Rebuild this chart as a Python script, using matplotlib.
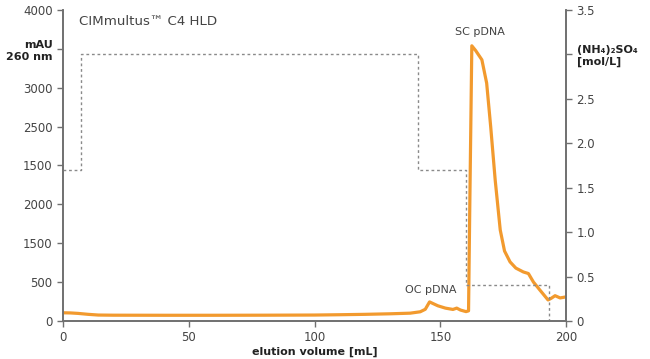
import matplotlib
matplotlib.use("Agg")
import matplotlib.pyplot as plt

# 数据: 色谱曲线 (elution volume mL / mAU 260 nm)
volume = [0, 3, 6, 10, 14, 20, 40, 60, 80, 100, 110, 120, 130, 138, 142, 144,
          145.7, 147, 149, 152, 155, 156.5, 158, 160.2, 161.2, 161.7, 162.5, 164,
          166.5, 168.4, 170, 171.8, 173.8, 175.5, 177.7, 180, 183, 185, 187,
          189.5, 192.8, 194, 195.6, 197.6, 200]
absorbance = [105, 103, 97, 85, 76, 74, 73, 73, 74, 76, 80, 85, 92, 100, 118, 150,
              245, 225, 195, 165, 148, 165, 140, 120, 130, 1500, 3540, 3480,
              3360, 3060, 2500, 1810, 1170, 900, 760, 680, 630, 610, 500,
              400, 270, 290, 325, 296, 310]

# 梯度 (NH4)2SO4 mol/L
grad_volume = [0, 7, 141, 160, 193]
grad_conc = [1.7, 3.0, 1.7, 0.4, 0.0]

left_ticks = [0, 500, 1000, 1500, 2000, 2500, 3000, 3500, 4000]
left_labels = ["0", "500", "1500", "2000", "1500", "2500", "3000", "mAU\n260 nm", "4000"]
right_ticks = [0, 0.5, 1.0, 1.5, 2.0, 2.5, 3.0, 3.5]
right_labels = ["0", "0.5", "1.0", "1.5", "2.0", "2.5", "(NH\u2084)\u2082SO\u2084\n[mol/L]", "3.5"]

plt.rcParams['font.family'] = ['DejaVu Sans']
txt = '#444444'
spine_c = '#707070'

fig = plt.figure(figsize=(6.5, 3.59), dpi=100)
ax = fig.add_axes([0.097, 0.106, 0.774, 0.866])
ax2 = ax.twinx()

ax2.plot(grad_volume, grad_conc, drawstyle='steps-post', color='#8a8a8a',
         lw=1.0, linestyle=(0, (2, 2)))
ax.plot(volume, absorbance, color='#F29A2E', lw=2.3, solid_joinstyle='round')

ax.set_xlim(0, 200)
ax.set_ylim(0, 4000)
ax2.set_ylim(0, 3.5)
ax.set_xticks([0, 50, 100, 150, 200])
ax.set_yticks(left_ticks)
ax.set_yticklabels(left_labels)
ax2.set_yticks(right_ticks)
ax2.set_yticklabels(right_labels)

for a in (ax, ax2):
    a.spines['top'].set_visible(False)
    for s in ('left', 'right', 'bottom'):
        a.spines[s].set_color(spine_c)
        a.spines[s].set_linewidth(1.2)
    a.tick_params(colors=spine_c, labelcolor=txt, labelsize=8.5, length=4, width=1)

for lab in ax.get_yticklabels():
    if 'mAU' in lab.get_text():
        lab.set_fontweight('bold')
        lab.set_fontsize(8)
        lab.set_color('#222222')
for lab in ax2.get_yticklabels():
    if 'mol' in lab.get_text():
        lab.set_fontweight('bold')
        lab.set_fontsize(8)
        lab.set_color('#222222')
        lab.set_horizontalalignment('left')

ax.set_xlabel("elution volume [mL]", fontsize=8, fontweight='bold', color='#222222', labelpad=1.5)
ax.text(0.032, 0.962, "CIMmultus\u2122 C4 HLD", transform=ax.transAxes, fontsize=9.6,
        color=txt, va='center', ha='left')
ax.text(165.8, 3717, "SC pDNA", fontsize=8, color=txt, ha='center', va='center')
ax.text(146, 399, "OC pDNA", fontsize=8, color=txt, ha='center', va='center')

fig.savefig("out.png", dpi=100)
